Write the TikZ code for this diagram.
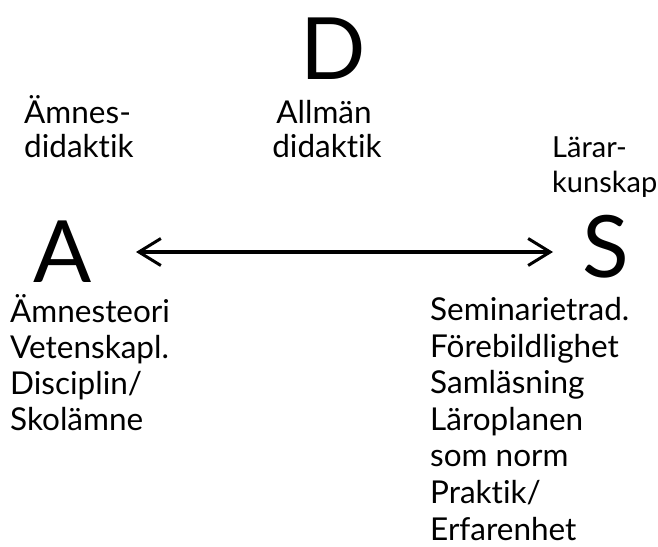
\documentclass[tikz,border=0pt]{standalone}
\usepackage{fontspec}
\setmainfont{Lato}[Ligatures={NoCommon,NoRare,NoDiscretionary}]
\usetikzlibrary{arrows.meta}

\begin{document}
\begin{tikzpicture}[x=1pt,y=-1pt,
  txt/.style={anchor=base west, inner sep=0pt, font=\fontsize{31.5}{36}\selectfont},
  ctxt/.style={anchor=base, inner sep=0pt, font=\fontsize{31.5}{36}\selectfont},
  big/.style={anchor=base west, inner sep=0pt, font=\fontsize{86}{90}\selectfont},
  link/.style={line width=4.5pt, {Straight Barb[length=22pt,width=27pt,line width'=3pt]}-{Straight Barb[length=22pt,width=27pt,line width'=3pt]}}]
\useasboundingbox (0,0) rectangle (658,546);

% the three corners
\node[big] (D) at (300,79) {D};
\node[big] (A) at (33,282) {A};
\node[big] (S) at (582,277) {S};

% labels above the corners
\node[txt] (amn1) at (24,123) {Ämnes-};
\node[txt] (amn2) at (24,157) {didaktik};
\node[ctxt] (allm1) at (324,123) {Allmän};
\node[ctxt] (allm2) at (327,157) {didaktik};
\node[txt, font=\fontsize{29}{35}\selectfont] (lar1) at (552,157) {Lärar-};
\node[txt, font=\fontsize{29}{35}\selectfont] (lar2) at (552,192) {kunskap};

% relation between A and S
\coordinate (tipL) at (136,252);
\coordinate (tipR) at (553,252);
\draw[link] (tipL) -- (tipR);

% A side
\node[txt] (a1) at (10,322) {Ämnesteori};
\node[txt] (a2) at (10,358) {Vetenskapl.};
\node[txt] (a3) at (10,394) {Disciplin/};
\node[txt] (a4) at (10,430) {Skolämne};

% S side
\node[txt] (s1) at (430,320) {Seminarietrad.};
\node[txt] (s2) at (430,357) {Förebildlighet};
\node[txt] (s3) at (430,393) {Samläsning};
\node[txt] (s4) at (430,430) {Läroplanen};
\node[txt] (s5) at (430,466) {som norm};
\node[txt] (s6) at (430,503) {Praktik/};
\node[txt] (s7) at (430,540) {Erfarenhet};
\end{tikzpicture}
\end{document}
